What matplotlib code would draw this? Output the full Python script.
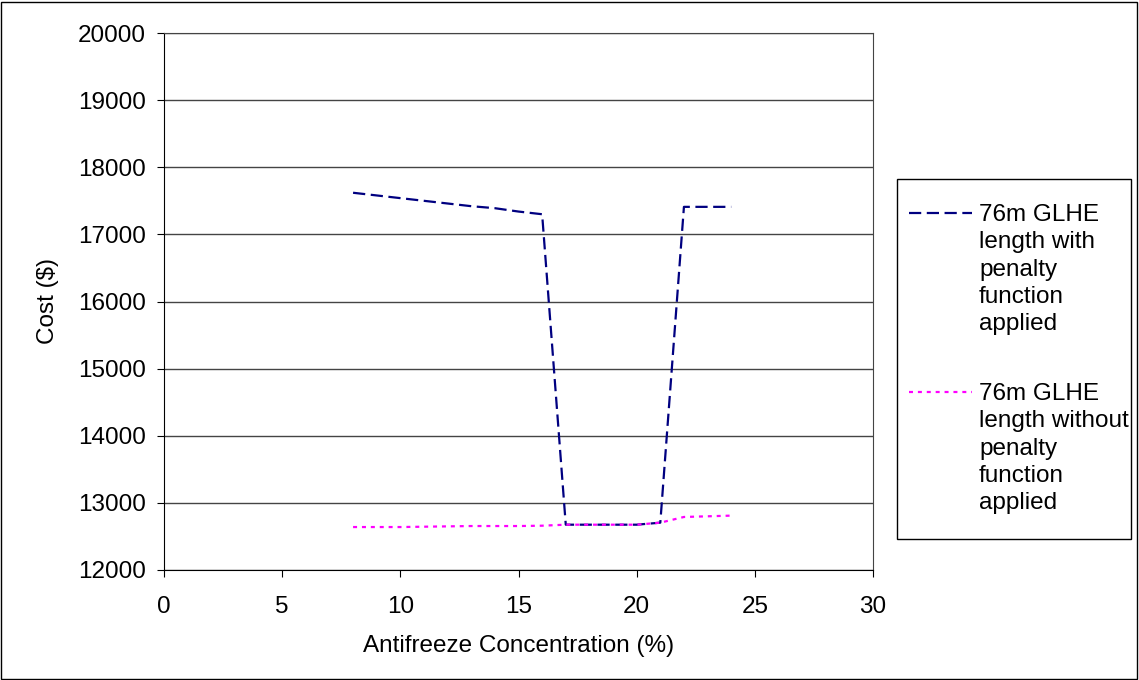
import matplotlib
matplotlib.use("Agg")
import matplotlib.pyplot as plt
from matplotlib.patches import Rectangle
from matplotlib.lines import Line2D

plt.rcParams['font.family'] = ['Liberation Sans', 'DejaVu Sans']

conc = [8, 9, 10, 11, 12, 13, 14, 15, 16, 17, 18, 19, 20, 21, 22, 23, 24]
cost_penalty = [17620, 17580, 17540, 17500, 17460, 17420, 17390, 17340, 17300,
                12675, 12675, 12675, 12675, 12705, 17410, 17410, 17410]
cost_no_penalty = [12640, 12640, 12640, 12645, 12650, 12655, 12655, 12655, 12660,
                   12675, 12675, 12675, 12675, 12705, 12790, 12800, 12810]

label_penalty = "76m GLHE\nlength with\npenalty\nfunction\napplied"
label_no_penalty = "76m GLHE\nlength without\npenalty\nfunction\napplied"

W, H = 1139, 680
FS = 17.5
fig = plt.figure(figsize=(W / 100, H / 100), dpi=100)
ax = fig.add_axes([164 / W, 1 - 570 / H, (873 - 164) / W, (570 - 33) / H])

def fx(px):
    return px / W

def fy(py):
    return 1 - py / H

# outer frame of the chart
fig.patches.append(Rectangle((fx(1), fy(679)), fx(1136), 677 / H, transform=fig.transFigure,
                             fill=False, edgecolor='black', linewidth=1))

dash_blue = (0, (5.5, 2.5))
dot_pink = (0, (1.8, 2.2))
ax.plot(conc, cost_penalty, color='#000080', linestyle=dash_blue, linewidth=1.6)
ax.plot(conc, cost_no_penalty, color='#ff00ff', linestyle=dot_pink, linewidth=1.6)

ax.set_xlim(0, 30)
ax.set_ylim(12000, 20000)
ax.set_xticks(range(0, 31, 5))
ax.set_yticks(range(12000, 20001, 1000))
ax.yaxis.grid(True, color='#444444', linewidth=1)
ax.set_axisbelow(True)
ax.tick_params(direction='out', length=5, labelsize=FS, colors='black')
ax.tick_params(axis='x', pad=14)
ax.tick_params(axis='y', pad=8)
for s in ax.spines.values():
    s.set_color('#444444')
ax.spines['left'].set_color('black')
ax.spines['bottom'].set_color('black')

ax.set_xlabel("Antifreeze Concentration (%)", fontsize=FS, labelpad=12)
ax.set_ylabel("Cost ($)", fontsize=FS, labelpad=14)

# legend box drawn by hand to match the layout
fig.patches.append(Rectangle((fx(897), fy(539)), fx(1131 - 897), (539 - 179) / H,
                             transform=fig.transFigure, fill=False,
                             edgecolor='black', linewidth=1))
entries = [(label_penalty, '#000080', dash_blue, 213),
           (label_no_penalty, '#ff00ff', dot_pink, 392)]
for text, color, ls, ycen in entries:
    fig.add_artist(Line2D([fx(909), fx(972)], [fy(ycen), fy(ycen)], transform=fig.transFigure,
                          color=color, linestyle=ls, linewidth=1.6))
    fig.text(fx(979), fy(ycen - 9), text, fontsize=FS, va='top', ha='left',
             linespacing=1.31)

fig.savefig("out.png", dpi=100)
